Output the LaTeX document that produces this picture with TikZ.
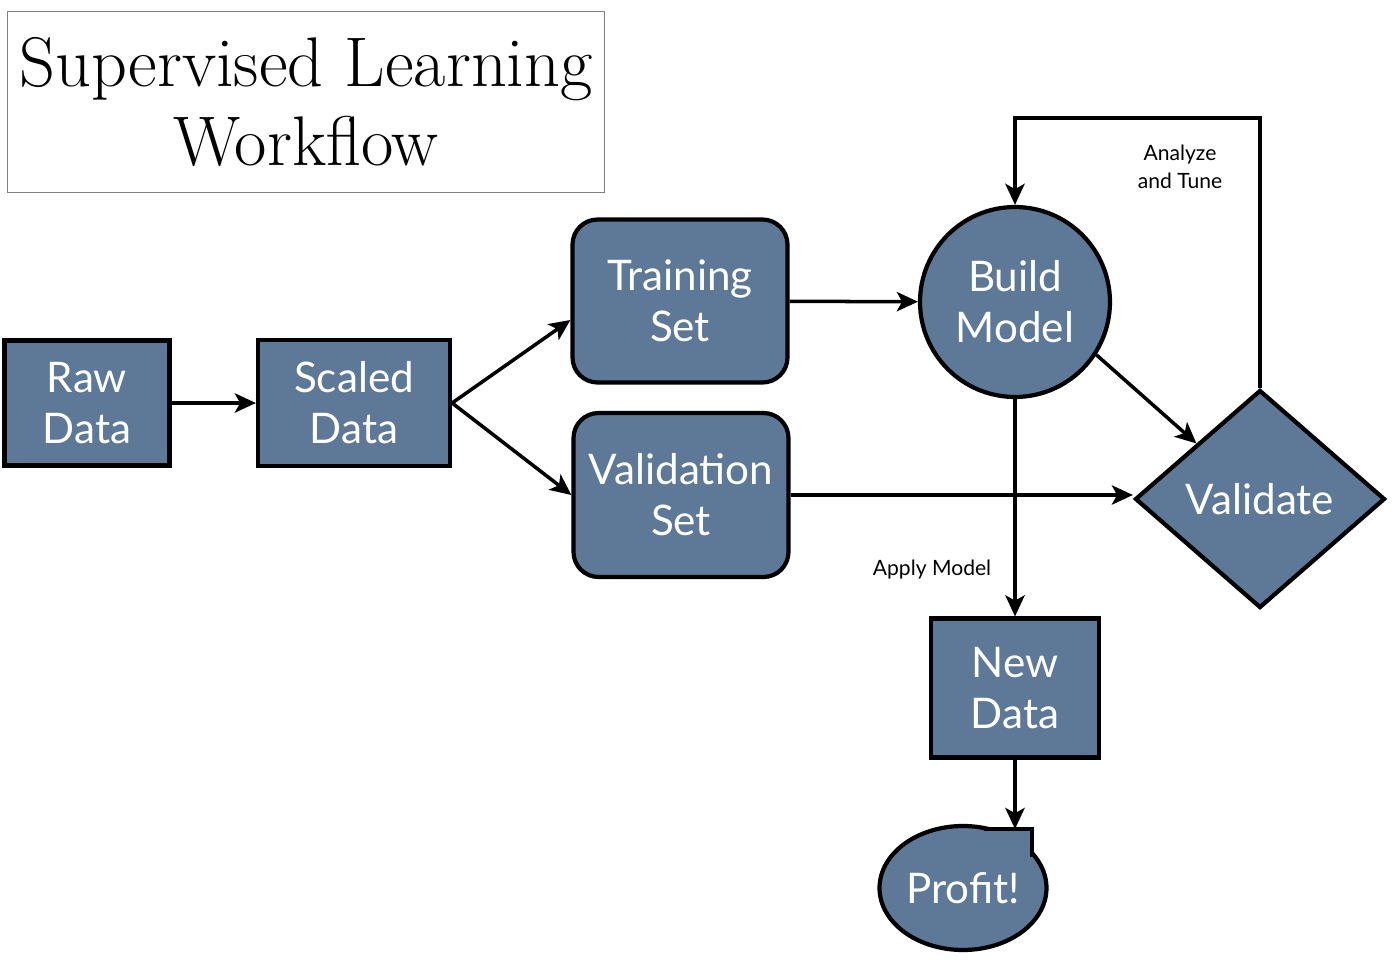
\documentclass[tikz,border=0pt]{standalone}
\usepackage{fontspec}
\newfontfamily\boxfont{Lato}
\usetikzlibrary{shapes.geometric,arrows.meta}
\definecolor{slate}{HTML}{5E7898}
\tikzset{
  block/.style={draw=black, line width=2.4pt, fill=slate, text=white, inner sep=0pt,
    align=center, font=\boxfont\fontsize{24}{29}\selectfont},
  flow/.style={-{Stealth[length=12pt,width=11pt,inset=3pt]}, line width=2pt},
  note/.style={font=\boxfont\fontsize{12}{16}\selectfont, align=center}
}
\begin{document}
\begin{tikzpicture}[x=0.02cm,y=-0.02cm]
      \useasboundingbox (0,0) rectangle (1394,963);
      \draw
        (306,102) node[draw=gray, line width=1pt, minimum width=11.94cm, minimum height=3.62cm,
          align=center, font=\fontsize{40}{45}\selectfont] (title){Supervised Learning\\Workflow}
        (87,403) node[block, minimum width=3.3cm, minimum height=2.5cm] (raw){Raw\\Data}
        (354,403) node[block, minimum width=3.84cm, minimum height=2.52cm] (scaled){Scaled\\Data}
        (680,301) node[block, rounded corners=0.5cm, minimum width=4.3cm, minimum height=3.26cm] (train){Training\\Set}
        (681,495) node[block, rounded corners=0.5cm, minimum width=4.3cm, minimum height=3.28cm] (valid){Validation\\Set}
        (1015,302) node[block, circle, minimum size=3.8cm] (build){Build\\Model}
        (1260,499) node[block, diamond, minimum width=5cm, minimum height=4.36cm] (check){Validate}
        (1015,688) node[block, minimum width=3.36cm, minimum height=2.78cm] (newdata){New\\Data}
        (963,888) node[block, ellipse, minimum width=3.34cm, minimum height=2.48cm] (profit){Profit!};
      % corner of the bubble
      \fill[slate] (986,829) -- (1032,829) -- (1032,856) -- (1010,862) -- (990,845) -- cycle;
      \draw[line width=2.4pt] (984,829) -- (1032,829) -- (1032,857);
      \coordinate (tab) at (1015,829);
      \coordinate (tune) at (1248,118);
      \draw
        (1180,167) node[note] (analyze){Analyze\\and Tune}
        (932,570) node[note] (apply){Apply Model};
      \begin{scope}[flow]
        \draw (raw) to (scaled);
        \draw (scaled.east) to ([yshift=-0.38cm]train.west);
        \draw (scaled.east) to (valid.west);
        \draw (train) to (build);
        \draw (valid.east) to (valid.east -| check.west);
        \draw (build.-33) to (check.north west);
        \draw (check.north) |- (tune) -| (build.north);
        \draw (build.south) to (newdata.north);
        \draw (newdata.south) to (tab);
      \end{scope}
    \end{tikzpicture}
\end{document}
